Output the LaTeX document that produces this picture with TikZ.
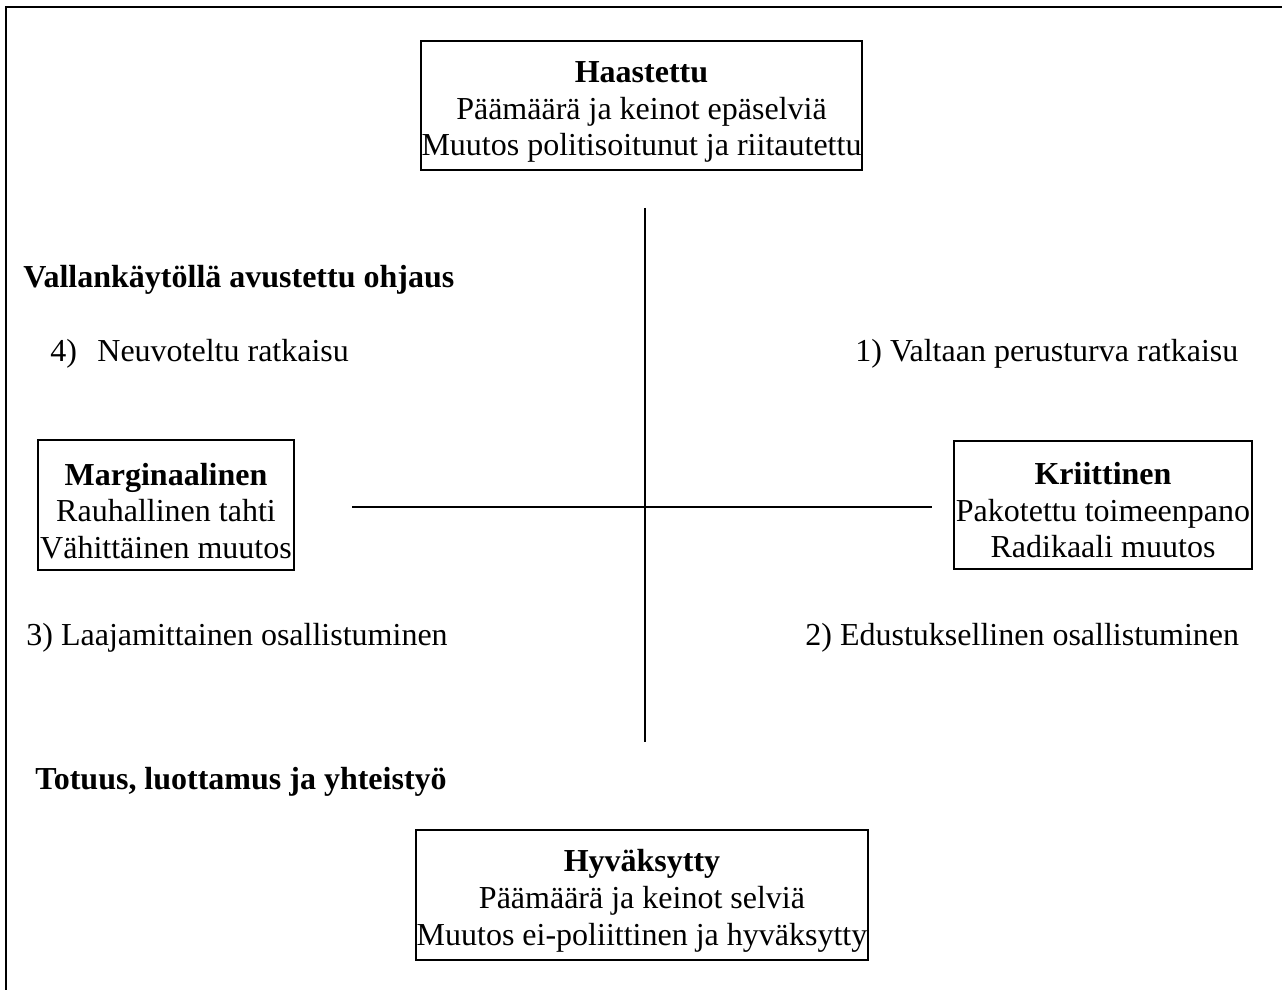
\documentclass[tikz,border=0pt]{standalone}
\usepackage{fontspec}
\setmainfont{Liberation Serif}

\begin{document}
\begin{tikzpicture}[x=0.5pt,y=-0.5pt,
  every node/.style={font=\fontsize{16pt}{18.3pt}\selectfont},
  box/.style={draw,line width=1pt,align=center,inner sep=0pt},
  lbl/.style={anchor=base west,inner sep=0pt}]

\def\px{0.5pt}
\def\topstrut{\rule{0pt}{17pt}}
\useasboundingbox (0,0) rectangle (1282,990);

% frame
\draw[line width=1.2pt] (6,990)--(6,7)--(1282,7);

% axes
\coordinate (top) at (645,208);
\coordinate (bottom) at (645,742);
\coordinate (left) at (352,507);
\coordinate (right) at (932,507);
\draw[line width=1pt] (top)--(bottom);
\draw[line width=1pt] (left)--(right);

% the four boxes
\node[box,minimum width=441*\px,minimum height=129*\px] (haast) at (641.5,105.5)
  {\topstrut\textbf{Haastettu}\\Päämäärä ja keinot epäselviä\\Muutos politisoitunut ja riitautettu};
\node[box,minimum width=256*\px,minimum height=130*\px] (margin) at (166,505)
  {\topstrut\textbf{Marginaalinen}\\Rauhallinen tahti\\Vähittäinen muutos};
\node[box,minimum width=298*\px,minimum height=128*\px] (krit) at (1103,504.5)
  {\topstrut\textbf{Kriittinen}\\Pakotettu toimeenpano\\Radikaali muutos};
\node[box,minimum width=452*\px,minimum height=130*\px] (hyv) at (642,895)
  {\topstrut\textbf{Hyväksytty}\\Päämäärä ja keinot selviä\\Muutos ei-poliittinen ja hyväksytty};

% labels
\node[lbl] (valta) at (23,288) {\textbf{Vallankäytöllä avustettu ohjaus}};
\node[lbl] (q4num) at (50,361) {4)};
\node[lbl] (q4) at (97,361) {Neuvoteltu ratkaisu};
\node[lbl] (q1) at (855,361) {1) Valtaan perusturva ratkaisu};
\node[lbl] (q3) at (26,645) {3) Laajamittainen osallistuminen};
\node[lbl] (q2) at (805,645) {2) Edustuksellinen osallistuminen};
\node[lbl] (totuus) at (35,789) {\textbf{Totuus, luottamus ja yhteistyö}};

\end{tikzpicture}
\end{document}
